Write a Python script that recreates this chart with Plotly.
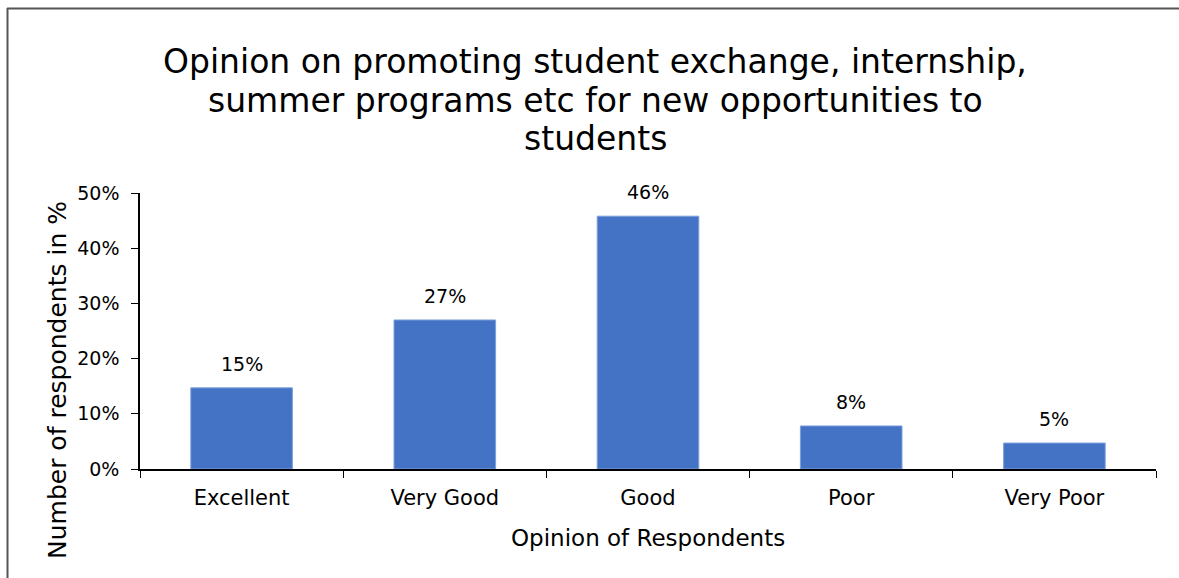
import plotly.graph_objects as go

categories = ["Excellent", "Very Good", "Good", "Poor", "Very Poor"]
values = [0.147, 0.270, 0.458, 0.078, 0.047]
y_ticks = [0, 0.1, 0.2, 0.3, 0.4, 0.5]
y_tick_labels = ["0%", "10%", "20%", "30%", "40%", "50%"]
title_lines = [
    "Opinion on promoting student exchange, internship,",
    "summer programs etc for new opportunities to",
    "students",
]

FONT = "DejaVu Sans"
BAR = "#4472C4"

L, R, T, B = 140, 23, 193, 109
W, H = 1179, 578
PW, PH = W - L - R, H - T - B

def px_x(p):
    return (p - L) / PW

def px_y(p):
    return (H - B - p) / PH

fig = go.Figure(go.Bar(
    x=categories, y=values,
    marker=dict(color=BAR, line=dict(color="#7EA0DC", width=1)),
    width=0.5,
))

for c, v in zip(categories, values):
    fig.add_annotation(x=c, y=v, text=f"{round(v*100):.0f}%", showarrow=False,
                       yanchor="bottom", yshift=11,
                       font=dict(family=FONT, size=19, color="#000"))

fig.update_layout(
    width=W, height=H,
    margin=dict(l=L, r=R, t=T, b=B, pad=0),
    paper_bgcolor="white", plot_bgcolor="white",
    showlegend=False,
    font=dict(family=FONT, color="#000"),
    xaxis=dict(
        type="category", tickson="boundaries", ticks="outside", ticklen=7,
        tickcolor="#000", showline=True, linecolor="#000", linewidth=2,
        tickfont=dict(family=FONT, size=21, color="#000"),
        ticklabelstandoff=9,
        showgrid=False,
    ),
    yaxis=dict(
        range=[0, 0.5], tickvals=y_ticks, ticktext=y_tick_labels,
        ticks="outside", ticklen=7, tickcolor="#000",
        showline=True, linecolor="#000", linewidth=1.5,
        tickfont=dict(family=FONT, size=19, color="#000"),
        ticklabelstandoff=8,
        showgrid=False, zeroline=False,
    ),
)

for i, line in enumerate(title_lines):
    fig.add_annotation(xref="paper", yref="paper", x=px_x(595), y=px_y(62 + 38 * i),
                       text=line, showarrow=False, xanchor="center", yanchor="middle",
                       font=dict(family=FONT, size=33, color="#000"))

fig.add_annotation(xref="paper", yref="paper", x=px_x(648), y=px_y(538),
                   text="Opinion of Respondents", showarrow=False,
                   xanchor="center", yanchor="middle",
                   font=dict(family=FONT, size=23, color="#000"))

fig.add_annotation(xref="paper", yref="paper", x=px_x(57), y=px_y(380),
                   text="Number of respondents in %", textangle=-90, showarrow=False,
                   xanchor="center", yanchor="middle",
                   font=dict(family=FONT, size=25, color="#000"))

# outer chart frame
fig.add_shape(type="line", xref="paper", yref="paper",
              x0=px_x(7), x1=px_x(1179), y0=px_y(8.5), y1=px_y(8.5),
              line=dict(color="#555555", width=2))
fig.add_shape(type="line", xref="paper", yref="paper",
              x0=px_x(7.5), x1=px_x(7.5), y0=px_y(8), y1=px_y(578),
              line=dict(color="#555555", width=2))

fig.write_html("out.html", config={"displayModeBar": False},
               post_script="document.body.style.margin='0';")
